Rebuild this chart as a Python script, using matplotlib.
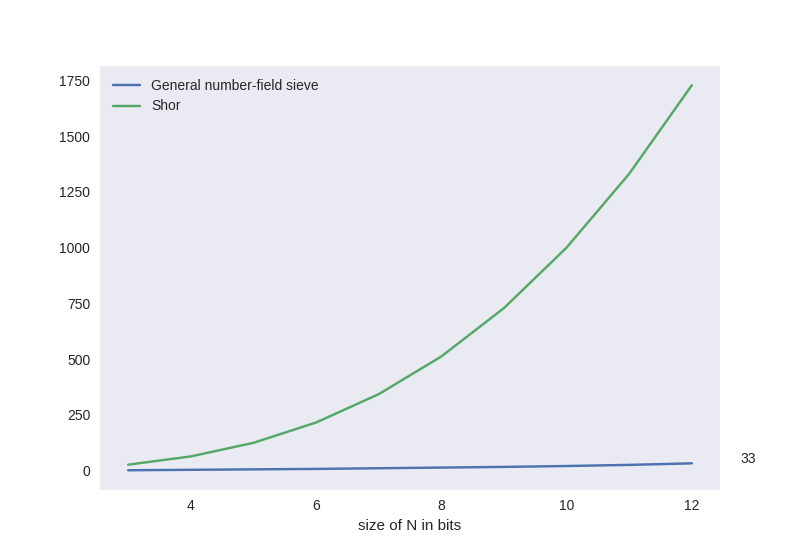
import numpy as np
import matplotlib
matplotlib.use("Agg")
import matplotlib.pyplot as plt

plt.style.use("seaborn-v0_8-dark")
plt.rcParams['font.family'] = ['Liberation Sans', 'DejaVu Sans']
plt.rcParams['axes.prop_cycle'] = plt.cycler(color=["#4C72B0", "#55A868", "#C44E52"])
plt.rcParams['lines.linewidth'] = 1.75
plt.rcParams['axes.labelsize'] = 11
plt.rcParams['xtick.major.pad'] = 7
plt.rcParams['ytick.major.pad'] = 7

bits = [3, 4, 5, 6, 7, 8, 9, 10, 11, 12]
gnfs = [2, 4, 6, 8, 11, 14, 17, 21, 26, 33]
shor = [27, 64, 125, 216, 343, 512, 729, 1000, 1331, 1728]

fig, ax = plt.subplots(figsize=(8, 5.5), dpi=100)
ax.plot(bits, gnfs, label="General number-field sieve")
ax.plot(bits, shor, label="Shor")
ax.text(12.77, 36, str(gnfs[-1]), fontsize=10, color=".15")
ax.set_xlabel("size of N in bits")
ax.legend(loc="upper left")

plt.savefig("out.png", dpi=100)
